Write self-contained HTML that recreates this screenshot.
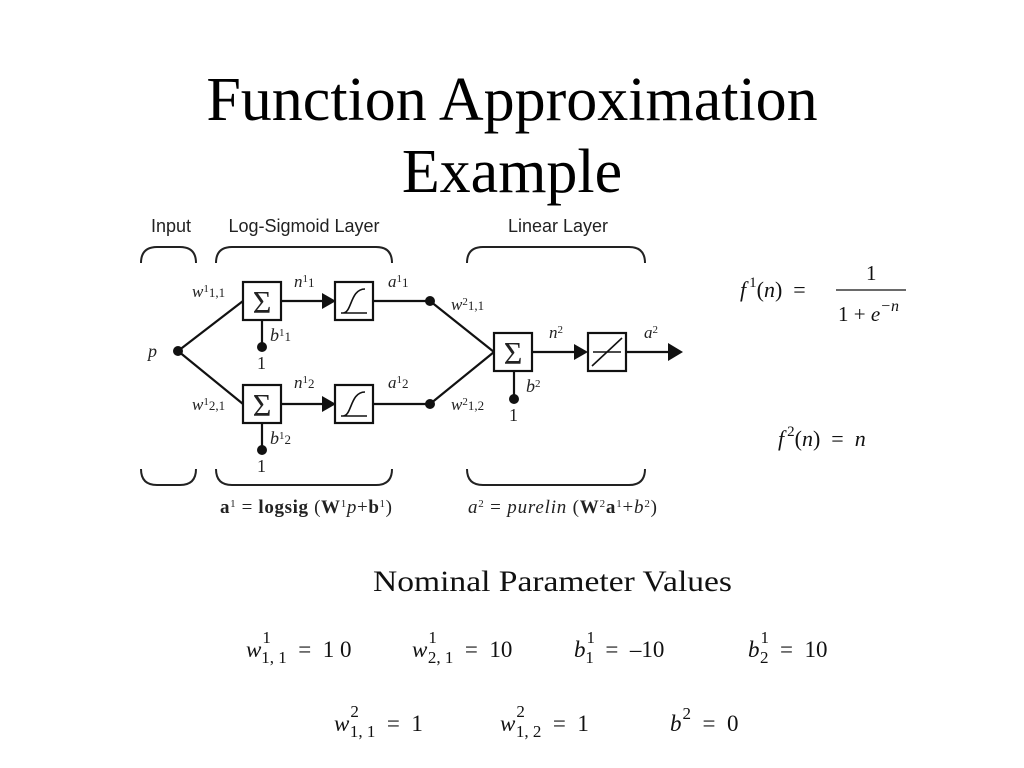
<!DOCTYPE html>
<html><head><meta charset="utf-8"><style>
body{margin:0;background:#fff;}
svg{display:block;}
text{white-space:pre;}
.t{font-family:"Liberation Serif",serif;}
.s{font-family:"Liberation Sans",sans-serif;}
</style></head><body>
<svg width="1024" height="768" viewBox="0 0 1024 768" xmlns="http://www.w3.org/2000/svg" xml:space="preserve">
<g class="t" font-size="62" text-anchor="middle" fill="#000">
<text x="512" y="120">Function Approximation</text>
<text x="512" y="192">Example</text>
</g>
<g class="s" font-size="18" fill="#222" text-anchor="middle">
<text x="171" y="232">Input</text>
<text x="304" y="232">Log-Sigmoid Layer</text>
<text x="558" y="232">Linear Layer</text>
</g>
<g fill="none" stroke="#222" stroke-width="2">
<path d="M141 263 Q141 247 157 247 L180 247 Q196 247 196 263"/>
<path d="M216 263 Q216 247 232 247 L376 247 Q392 247 392 263"/>
<path d="M467 263 Q467 247 483 247 L629 247 Q645 247 645 263"/>
<path d="M141 469 Q141 485 157 485 L180 485 Q196 485 196 469"/>
<path d="M216 469 Q216 485 232 485 L376 485 Q392 485 392 469"/>
<path d="M467 469 Q467 485 483 485 L629 485 Q645 485 645 469"/>
</g>
<g stroke="#111" stroke-width="2.2" fill="none">
<line x1="178" y1="351" x2="243" y2="301"/>
<line x1="178" y1="351" x2="243" y2="404"/>
<line x1="281" y1="301" x2="322" y2="301"/>
<line x1="281" y1="404" x2="322" y2="404"/>
<line x1="373" y1="301" x2="430" y2="301"/>
<line x1="373" y1="404" x2="430" y2="404"/>
<line x1="430" y1="301" x2="494" y2="352"/>
<line x1="430" y1="404" x2="494" y2="352"/>
<line x1="532" y1="352" x2="575" y2="352"/>
<line x1="627" y1="352" x2="670" y2="352"/>
<line x1="262" y1="320" x2="262" y2="347"/>
<line x1="262" y1="423" x2="262" y2="450"/>
<line x1="514" y1="371" x2="514" y2="399"/>
<rect x="243" y="282" width="38" height="38" fill="#fff"/>
<rect x="243" y="385" width="38" height="38" fill="#fff"/>
<rect x="335" y="282" width="38" height="38" fill="#fff"/>
<rect x="335" y="385" width="38" height="38" fill="#fff"/>
<rect x="494" y="333" width="38" height="38" fill="#fff"/>
<rect x="588" y="333" width="38" height="38" fill="#fff"/>
<path d="M341 313 L367 313 M343 313 C352 313 350 289 365 289" stroke-width="1.6"/>
<path d="M341 416 L367 416 M343 416 C352 416 350 392 365 392" stroke-width="1.6"/>
<line x1="592" y1="366" x2="622" y2="338" stroke-width="1.6"/>
<line x1="593" y1="352" x2="621" y2="352" stroke-width="1.4"/>
</g>
<g fill="#111">
<circle cx="178" cy="351" r="5"/><circle cx="430" cy="301" r="5"/><circle cx="430" cy="404" r="5"/>
<circle cx="262" cy="347" r="5"/><circle cx="262" cy="450" r="5"/><circle cx="514" cy="399" r="5"/>
<polygon points="322,293 336,301 322,309"/><polygon points="322,396 336,404 322,412"/>
<polygon points="574,344 588,352 574,360"/><polygon points="668,343 683,352 668,361"/>
</g>
<g class="t" fill="#222" text-anchor="middle" font-size="32">
<text x="262" y="313">Σ</text><text x="262" y="416">Σ</text><text x="513" y="364">Σ</text>
</g>
<g class="t" fill="#222" font-size="17">
<text x="148" y="357" font-style="italic" font-size="18">p</text>
<text x="192" y="297"><tspan font-style="italic">w</tspan><tspan font-size="11" dy="-5">1</tspan><tspan font-size="13" dy="5">1,1</tspan></text>
<text x="192" y="410"><tspan font-style="italic">w</tspan><tspan font-size="11" dy="-5">1</tspan><tspan font-size="13" dy="5">2,1</tspan></text>
<text x="294" y="287"><tspan font-style="italic">n</tspan><tspan font-size="11" dy="-5">1</tspan><tspan font-size="13" dy="5">1</tspan></text>
<text x="294" y="388"><tspan font-style="italic">n</tspan><tspan font-size="11" dy="-5">1</tspan><tspan font-size="13" dy="5">2</tspan></text>
<text x="388" y="287"><tspan font-style="italic">a</tspan><tspan font-size="11" dy="-5">1</tspan><tspan font-size="13" dy="5">1</tspan></text>
<text x="388" y="388"><tspan font-style="italic">a</tspan><tspan font-size="11" dy="-5">1</tspan><tspan font-size="13" dy="5">2</tspan></text>
<text x="270" y="341" font-size="18"><tspan font-style="italic">b</tspan><tspan font-size="11" dy="-5">1</tspan><tspan font-size="13" dy="5">1</tspan></text>
<text x="270" y="444" font-size="18"><tspan font-style="italic">b</tspan><tspan font-size="11" dy="-5">1</tspan><tspan font-size="13" dy="5">2</tspan></text>
<text x="257" y="369" font-size="18">1</text><text x="257" y="472" font-size="18">1</text>
<text x="509" y="421" font-size="18">1</text>
<text x="451" y="310"><tspan font-style="italic">w</tspan><tspan font-size="11" dy="-5">2</tspan><tspan font-size="13" dy="5">1,1</tspan></text>
<text x="451" y="410"><tspan font-style="italic">w</tspan><tspan font-size="11" dy="-5">2</tspan><tspan font-size="13" dy="5">1,2</tspan></text>
<text x="549" y="338"><tspan font-style="italic">n</tspan><tspan font-size="11" dy="-5">2</tspan></text>
<text x="644" y="338"><tspan font-style="italic">a</tspan><tspan font-size="11" dy="-5">2</tspan></text>
<text x="526" y="392" font-size="18"><tspan font-style="italic">b</tspan><tspan font-size="11" dy="-5">2</tspan></text>
<text x="220" y="513" font-size="19" textLength="172" lengthAdjust="spacing"><tspan font-weight="bold">a</tspan><tspan font-size="11" dy="-6">1</tspan><tspan dy="6"> = </tspan><tspan font-weight="bold">logsig</tspan><tspan> (</tspan><tspan font-weight="bold">W</tspan><tspan font-size="11" dy="-6">1</tspan><tspan dy="6" font-style="italic">p</tspan><tspan>+</tspan><tspan font-weight="bold">b</tspan><tspan font-size="11" dy="-6">1</tspan><tspan dy="6">)</tspan></text>
<text x="468" y="513" font-size="19" textLength="189" lengthAdjust="spacing"><tspan font-style="italic">a</tspan><tspan font-size="11" dy="-6">2</tspan><tspan dy="6"> = </tspan><tspan font-style="italic">purelin</tspan><tspan> (</tspan><tspan font-weight="bold">W</tspan><tspan font-size="11" dy="-6">2</tspan><tspan dy="6" font-weight="bold">a</tspan><tspan font-size="11" dy="-6">1</tspan><tspan dy="6">+</tspan><tspan font-style="italic">b</tspan><tspan font-size="11" dy="-6">2</tspan><tspan dy="6">)</tspan></text>
</g>
<g class="t" fill="#111" font-size="22">
<text x="740" y="297"><tspan font-style="italic">f</tspan><tspan font-size="15" dx="3" dy="-10">1</tspan><tspan dy="10">(</tspan><tspan font-style="italic">n</tspan><tspan>)  =</tspan></text>
<text x="866" y="280" font-size="21">1</text>
<line x1="836" y1="290" x2="906" y2="290" stroke="#111" stroke-width="1.3"/>
<text x="838" y="321" font-size="21">1 + <tspan font-style="italic">e</tspan><tspan font-size="16" dy="-10" font-style="italic">−n</tspan></text>
<text x="778" y="446"><tspan font-style="italic">f</tspan><tspan font-size="15" dx="3" dy="-10">2</tspan><tspan dy="10">(</tspan><tspan font-style="italic">n</tspan><tspan>)  =  </tspan><tspan font-style="italic">n</tspan></text>
<text x="373" y="591" font-size="30" textLength="359" lengthAdjust="spacingAndGlyphs">Nominal Parameter Values</text>
</g>
<g class="t" fill="#111" font-size="23">
<text x="246" y="657"><tspan font-style="italic">w</tspan><tspan font-size="17" dx="1" dy="-14">1</tspan><tspan font-size="17" dx="-9" dy="20">1, 1</tspan><tspan dy="-6">  =  1 0</tspan></text>
<text x="412" y="657"><tspan font-style="italic">w</tspan><tspan font-size="17" dx="1" dy="-14">1</tspan><tspan font-size="17" dx="-9" dy="20">2, 1</tspan><tspan dy="-6">  =  10</tspan></text>
<text x="574" y="657"><tspan font-style="italic">b</tspan><tspan font-size="17" dx="1" dy="-14">1</tspan><tspan font-size="17" dx="-9" dy="20">1</tspan><tspan dy="-6">  =  –10</tspan></text>
<text x="748" y="657"><tspan font-style="italic">b</tspan><tspan font-size="17" dx="1" dy="-14">1</tspan><tspan font-size="17" dx="-9" dy="20">2</tspan><tspan dy="-6">  =  10</tspan></text>
<text x="334" y="731"><tspan font-style="italic">w</tspan><tspan font-size="17" dx="1" dy="-14">2</tspan><tspan font-size="17" dx="-9" dy="20">1, 1</tspan><tspan dy="-6">  =  1</tspan></text>
<text x="500" y="731"><tspan font-style="italic">w</tspan><tspan font-size="17" dx="1" dy="-14">2</tspan><tspan font-size="17" dx="-9" dy="20">1, 2</tspan><tspan dy="-6">  =  1</tspan></text>
<text x="670" y="731"><tspan font-style="italic">b</tspan><tspan font-size="17" dx="1" dy="-12">2</tspan><tspan dy="12">  =  0</tspan></text>
</g>
</svg>
</body></html>
